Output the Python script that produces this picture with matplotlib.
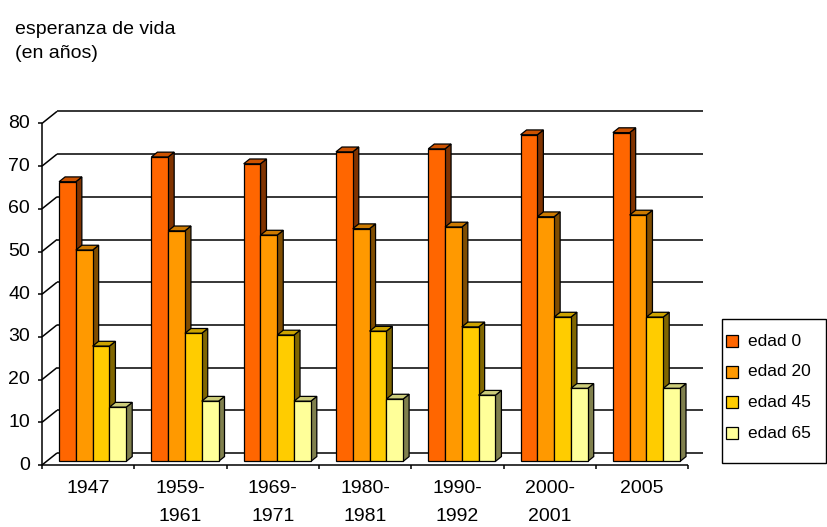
import matplotlib
matplotlib.use("Agg")
import matplotlib.pyplot as plt
from matplotlib.patches import Polygon, Rectangle
from matplotlib.colors import to_rgb

# ---- data -------------------------------------------------------------
categories = ["1947", "1959-\n1961", "1969-\n1971", "1980-\n1981",
              "1990-\n1992", "2000-\n2001", "2005"]
series_names = ["edad 0", "edad 20", "edad 45", "edad 65"]
edad_0 = [65.5, 71.3, 69.7, 72.5, 73.2, 76.5, 77.0]
edad_20 = [49.5, 54.0, 53.0, 54.5, 54.9, 57.3, 57.7]
edad_45 = [27.0, 30.0, 29.6, 30.5, 31.5, 33.8, 33.8]
edad_65 = [12.7, 14.1, 14.1, 14.6, 15.5, 17.1, 17.1]
y_ticks = [0, 10, 20, 30, 40, 50, 60, 70, 80]

series_values = [edad_0, edad_20, edad_45, edad_65]
face_colors = ["#FF6600", "#FF9900", "#FFCC00", "#FFFF99"]

plt.rcParams["font.family"] = ["Liberation Sans", "DejaVu Sans"]

# ---- layout (pixels) ----------------------------------------------------
W, H, DPI = 827, 527, 100
ORIGIN_X, ORIGIN_Y = 42.0, 465.0      # front corner of the plot, from top-left
SLOT = 92.3                           # pixels per category
UNIT = 4.27                           # pixels per year
DEPTH_PX = (15.0, 12.0)               # oblique depth of the floor (right, up)
BAR_DEPTH = (0.30, 0.70)              # bar front/back as fraction of floor depth
GAP = 1.5                             # gap between clusters, in bar widths
FONT = 14

fig = plt.figure(figsize=(W / DPI, H / DPI), dpi=DPI)
ax = fig.add_axes([0, 0, 1, 1])
ax.set_xlim(-ORIGIN_X / SLOT, (W - ORIGIN_X) / SLOT)
ax.set_ylim(-(H - ORIGIN_Y) / UNIT, ORIGIN_Y / UNIT)
ax.axis("off")

n_cat = len(categories)
n_ser = len(series_values)
DX = DEPTH_PX[0] / SLOT
DY = DEPTH_PX[1] / UNIT
px_x = 1.0 / SLOT
px_y = 1.0 / UNIT

line_kw = dict(color="black", lw=1.1, solid_capstyle="butt", zorder=1)

# back wall gridlines and left-wall diagonals
for v in y_ticks:
    ax.plot([DX, n_cat + DX], [v + DY, v + DY], **line_kw)
    ax.plot([0, DX], [v, v + DY], **line_kw)

# front value axis
ax.plot([0, 0], [0, y_ticks[-1]], **line_kw)
for v in y_ticks:
    ax.plot([-4 * px_x, 0], [v, v], **line_kw)
    ax.text(-12 * px_x, v, str(v), ha="right", va="center",
            fontsize=FONT, color="black")

# category axis
ax.plot([0, n_cat], [0, 0], **line_kw)
for i in range(n_cat + 1):
    ax.plot([i, i], [0, -4 * px_y], **line_kw)
for i, lab in enumerate(categories):
    ax.text(i + 0.5, -15 * px_y, lab, ha="center", va="top",
            fontsize=FONT, linespacing=1.85, color="black")


def shade(color, k):
    r, g, b = to_rgb(color)
    return (r * k, g * k, b * k)


# 3-D style clustered columns
bar_w = 1.0 / (n_ser + GAP)
f0, f1 = BAR_DEPTH
ddx = (f1 - f0) * DX
ddy = (f1 - f0) * DY
poly_kw = dict(edgecolor="black", lw=0.9, joinstyle="miter")
z = 2
for i in range(n_cat):
    for j in range(n_ser):
        v = series_values[j][i]
        col = face_colors[j]
        xl = i + GAP * bar_w / 2 + j * bar_w + f0 * DX
        xr = xl + bar_w
        yb = f0 * DY
        yt = yb + v
        side = Polygon([(xr, yb), (xr + ddx, yb + ddy), (xr + ddx, yt + ddy), (xr, yt)],
                       facecolor=shade(col, 0.5), zorder=z, **poly_kw)
        top = Polygon([(xl, yt), (xr, yt), (xr + ddx, yt + ddy), (xl + ddx, yt + ddy)],
                      facecolor=shade(col, 0.8), zorder=z, **poly_kw)
        front = Polygon([(xl, yb), (xr, yb), (xr, yt), (xl, yt)],
                        facecolor=col, zorder=z + 0.5, **poly_kw)
        ax.add_patch(side)
        ax.add_patch(top)
        ax.add_patch(front)
        z += 1

# axis title
fig.text(15 / W, 1 - 21 / H, "esperanza de vida\n(en años)", ha="left", va="top",
         fontsize=FONT, linespacing=1.5, color="black")


# legend box, drawn in figure pixels
def fx(px):
    return px / W


def fy(py):
    return 1 - py / H


LEG_BOX = (722, 319, 826, 463)        # left, top, right, bottom
LEG_FIRST, LEG_STEP = 341, 30.7
SWATCH = 12
fig.add_artist(Rectangle((fx(LEG_BOX[0]), fy(LEG_BOX[3])),
                         fx(LEG_BOX[2] - LEG_BOX[0]), (LEG_BOX[3] - LEG_BOX[1]) / H,
                         transform=fig.transFigure, facecolor="white",
                         edgecolor="black", lw=1.0, zorder=50))
for k, (name, col) in enumerate(zip(series_names, face_colors)):
    cy = LEG_FIRST + k * LEG_STEP
    fig.add_artist(Rectangle((fx(726), fy(cy + SWATCH / 2)), fx(SWATCH), SWATCH / H,
                             transform=fig.transFigure, facecolor=col,
                             edgecolor="black", lw=0.9, zorder=51))
    fig.text(fx(748), fy(cy), name, ha="left", va="center",
             fontsize=12.5, color="black", zorder=52)

fig.savefig("out.png", dpi=DPI)
